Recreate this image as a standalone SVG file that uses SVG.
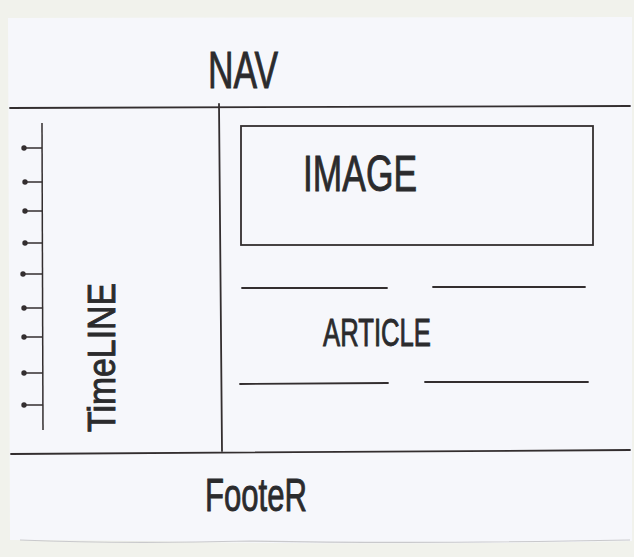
<svg xmlns="http://www.w3.org/2000/svg" width="634" height="557" viewBox="0 0 634 557">
<style>
.ln{stroke:#332e2f;stroke-width:1.8;fill:none;stroke-linecap:round}
.tk{stroke:#332e2f;stroke-width:1.5;fill:none}
.dot{fill:#332e2f}
.hw{font-family:"Liberation Sans","DejaVu Sans",sans-serif;fill:#2b2b2d;stroke:#2b2b2d;stroke-width:0.9;font-weight:normal}
</style>
<rect x="0" y="0" width="634" height="557" fill="#f1f2ec"/>
<path d="M8 18 L632 17 L632 541 Q400 545 200 542 Q80 540 10 540 Z" fill="#f6f7fb"/>
<path d="M20 540 Q120 544 250 541 Q420 544 630 540" stroke="#c9c9cc" stroke-width="1.2" fill="none"/>

<g id="nav">
  <text class="hw" x="208" y="88" font-size="52" textLength="70" lengthAdjust="spacingAndGlyphs">NAV</text>
</g>
<g id="layout-lines">
  <line class="ln" x1="10" y1="108" x2="630" y2="106"/>
  <line class="ln" x1="219" y1="104" x2="222" y2="451"/>
  <line class="ln" x1="11" y1="454" x2="630" y2="450"/>
</g>
<g id="timeline">
  <line class="tk" x1="42" y1="123" x2="43" y2="430"/>
  <g class="tk">
    <line x1="25" y1="148" x2="42" y2="148"/>
    <line x1="25" y1="182" x2="42" y2="182"/>
    <line x1="25" y1="211" x2="42" y2="211"/>
    <line x1="25" y1="243" x2="42" y2="243"/>
    <line x1="23" y1="274" x2="42" y2="274"/>
    <line x1="25" y1="308" x2="42" y2="308"/>
    <line x1="24" y1="337" x2="42" y2="337"/>
    <line x1="24" y1="373" x2="43" y2="373"/>
    <line x1="24" y1="405" x2="43" y2="405"/>
  </g>
  <g class="dot">
    <circle cx="24" cy="148" r="2.7"/>
    <circle cx="25" cy="182" r="2.7"/>
    <circle cx="25" cy="211" r="2.7"/>
    <circle cx="25" cy="243" r="2.7"/>
    <circle cx="23" cy="274" r="2.7"/>
    <circle cx="24" cy="308" r="2.7"/>
    <circle cx="24" cy="337" r="2.7"/>
    <circle cx="24" cy="373" r="2.7"/>
    <circle cx="24" cy="405" r="2.7"/>
  </g>
  <text class="hw" transform="translate(115 432) rotate(-90)" x="0" y="0" font-size="38" textLength="149" lengthAdjust="spacingAndGlyphs">TimeLINE</text>
</g>
<g id="image">
  <rect class="ln" x="241" y="126" width="352" height="119"/>
  <text class="hw" x="303" y="191" font-size="50" textLength="114" lengthAdjust="spacingAndGlyphs">IMAGE</text>
</g>
<g id="article">
  <line class="ln" x1="242" y1="288" x2="387" y2="288"/>
  <line class="ln" x1="433" y1="287" x2="585" y2="287"/>
  <line class="ln" x1="240" y1="384" x2="388" y2="383"/>
  <line class="ln" x1="425" y1="382" x2="588" y2="382"/>
  <text class="hw" x="323" y="346" font-size="38" textLength="108" lengthAdjust="spacingAndGlyphs">ARTICLE</text>
</g>
<g id="footer">
  <text class="hw" x="205" y="511" font-size="46" textLength="102" lengthAdjust="spacingAndGlyphs">FooteR</text>
</g>
</svg>
